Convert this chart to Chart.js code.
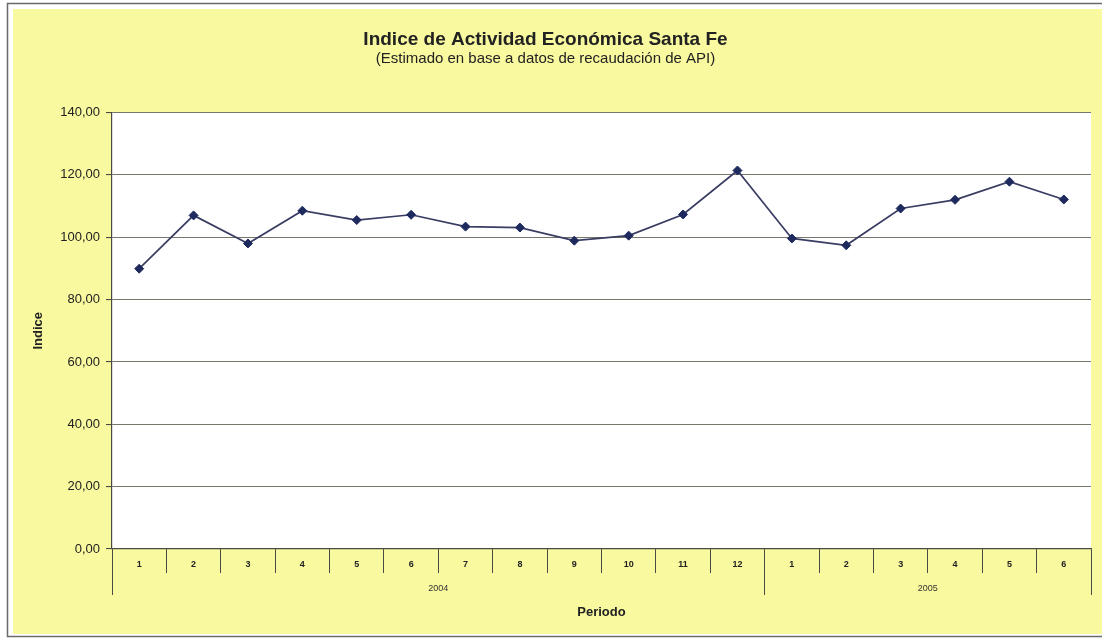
<!DOCTYPE html>
<html>
<head>
<meta charset="utf-8">
<script src="https://cdn.jsdelivr.net/npm/chart.js@4/dist/chart.umd.min.js"></script>
<style>
  html, body { margin: 0; padding: 0; background: #ffffff; }
  #wrap { width: 1102px; height: 641px; }
</style>
</head>
<body>
<div id="wrap"><canvas id="indiceChart" width="1102" height="641"></canvas></div>
<script>
// datos
const meses = ['1','2','3','4','5','6','7','8','9','10','11','12','1','2','3','4','5','6'];
const anios = ['2004', '2005'];
const mesesPorAnio = [12, 6];
const indice = [89.9, 107.0, 98.0, 108.5, 105.5, 107.2, 103.4, 103.1, 98.9, 100.5, 107.3, 121.4,
                99.6, 97.4, 109.2, 112.0, 117.8, 112.1];

const amarillo = '#f9f9a0';
const lineaEje = '#4a4a44';

// fondo, marco y area blanca
const fondoPlugin = {
    id: 'fondo',
    beforeDraw(chart) {
        const ctx = chart.ctx;
        const a = chart.chartArea;
        ctx.save();
        ctx.fillStyle = '#ffffff';
        ctx.fillRect(0, 0, chart.width, chart.height);
        ctx.fillStyle = amarillo;
        ctx.fillRect(13, 9, chart.width - 13, 625);
        ctx.strokeStyle = '#6a6a6a';
        ctx.lineWidth = 1.5;
        ctx.strokeRect(7.5, 3.5, chart.width, 633);
        ctx.fillStyle = '#ffffff';
        ctx.fillRect(a.left, a.top, a.right - a.left, a.bottom - a.top);
        ctx.restore();
    }
};

// segundo nivel del eje x: años
const aniosPlugin = {
    id: 'anios',
    afterDraw(chart) {
        const ctx = chart.ctx;
        const x = chart.scales.x;
        const a = chart.chartArea;
        const paso = (a.right - a.left) / meses.length;
        ctx.save();
        ctx.strokeStyle = lineaEje;
        ctx.lineWidth = 1;
        ctx.fillStyle = '#333333';
        ctx.font = '9px "Liberation Sans", Arial, sans-serif';
        ctx.textAlign = 'center';
        ctx.textBaseline = 'middle';
        let inicio = 0;
        for (let i = 0; i <= anios.length; i++) {
            const px = Math.round(a.left + inicio * paso - 0.5) + 0.5;
            ctx.beginPath();
            ctx.moveTo(px, a.bottom + 20);
            ctx.lineTo(px, a.bottom + 46);
            ctx.stroke();
            if (i < anios.length) {
                const fin = inicio + mesesPorAnio[i];
                const centro = (x.getPixelForValue(inicio) + x.getPixelForValue(fin - 1)) / 2;
                ctx.fillText(anios[i], centro, a.bottom + 40);
                inicio = fin;
            }
        }
        ctx.restore();
    }
};

const ctx = document.getElementById('indiceChart').getContext('2d');
const indiceChart = new Chart(ctx, {
    type: 'line',
    data: {
        labels: meses,
        datasets: [{
            label: 'Indice',
            data: indice,
            borderColor: '#3a3d62',
            borderWidth: 1.7,
            pointStyle: 'rectRot',
            pointRadius: 4.5,
            pointBackgroundColor: '#1e2a5e',
            pointBorderColor: '#1e2a5e',
            pointBorderWidth: 1,
            tension: 0
        }]
    },
    options: {
        responsive: false,
        animation: false,
        layout: {
            padding: { left: 0, right: 11, top: 0, bottom: 0 }
        },
        plugins: {
            legend: { display: false },
            tooltip: { enabled: false },
            title: {
                display: true,
                text: 'Indice de Actividad Económica Santa Fe',
                color: '#222222',
                font: { family: '"Liberation Sans", Arial, sans-serif', size: 19, weight: 'bold', lineHeight: 1.0 },
                padding: { top: 30, bottom: 0 }
            },
            subtitle: {
                display: true,
                text: '(Estimado en base a datos de recaudación de API)',
                color: '#222222',
                font: { family: '"Liberation Sans", Arial, sans-serif', size: 15, lineHeight: 1.2 },
                padding: { top: 1, bottom: 44.5 }
            }
        },
        scales: {
            x: {
                type: 'category',
                offset: true,
                afterFit(scale) { scale.height = 92; },
                grid: {
                    offset: true,
                    drawOnChartArea: false,
                    tickLength: 24,
                    color: lineaEje,
                    tickColor: lineaEje
                },
                border: { color: lineaEje, width: 1.2 },
                ticks: {
                    autoSkip: false,
                    maxRotation: 0,
                    padding: -14,
                    color: '#222222',
                    font: { family: '"Liberation Sans", Arial, sans-serif', size: 9, weight: 'bold' }
                },
                title: {
                    display: true,
                    text: 'Periodo',
                    color: '#222222',
                    font: { family: '"Liberation Sans", Arial, sans-serif', size: 13, weight: 'bold' },
                    padding: { top: 0, bottom: 21 }
                }
            },
            y: {
                min: 0,
                max: 140,
                afterFit(scale) { scale.width = 112; },
                grid: {
                    color: '#76766c',
                    tickColor: lineaEje,
                    tickLength: 6,
                    lineWidth: 1.1
                },
                border: { color: lineaEje, width: 1.2 },
                ticks: {
                    stepSize: 20,
                    padding: 6,
                    color: '#222222',
                    font: { family: '"Liberation Sans", Arial, sans-serif', size: 13 },
                    callback: function (value) {
                        return value.toFixed(2).replace('.', ',');
                    }
                },
                title: {
                    display: true,
                    text: 'Indice',
                    color: '#222222',
                    font: { family: '"Liberation Sans", Arial, sans-serif', size: 13, weight: 'bold' },
                    padding: { top: 31, bottom: 0 }
                }
            }
        }
    },
    plugins: [fondoPlugin, aniosPlugin]
});
</script>
</body>
</html>
